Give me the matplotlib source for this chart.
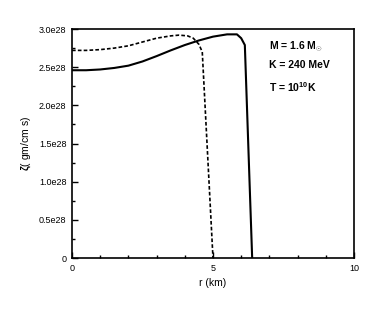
import numpy as np
from matplotlib import pyplot as plt
from matplotlib.ticker import MultipleLocator

plt.rcParams['font.family'] = ['Liberation Sans', 'DejaVu Sans']
plt.rcParams['mathtext.fontset'] = 'custom'
plt.rcParams['mathtext.rm'] = 'Liberation Sans:bold'
plt.rcParams['mathtext.it'] = 'Liberation Sans:bold'

# radius in km, zeta in units of 1e28 gm/(cm s)
rSolid = [0.0, 0.5, 1.0, 1.5, 2.0, 2.5, 3.0, 3.5, 4.0, 4.5, 5.0, 5.5, 5.85, 6.0, 6.13, 6.39]
zSolid = [2.46, 2.46, 2.47, 2.49, 2.52, 2.575, 2.645, 2.72, 2.79, 2.85, 2.90, 2.93, 2.93, 2.88, 2.79, 0.0]

rDashed = [0.0, 0.5, 1.0, 1.5, 2.0, 2.5, 3.0, 3.5, 3.8, 4.1, 4.3, 4.5, 4.62, 5.0]
zDashed = [2.72, 2.72, 2.73, 2.75, 2.78, 2.83, 2.88, 2.91, 2.92, 2.91, 2.88, 2.80, 2.70, 0.0]

yTicks = [0, 0.5, 1.0, 1.5, 2.0, 2.5, 3.0]
yTickLabels = ['0', '0.5e28', '1.0e28', '1.5e28', '2.0e28', '2.5e28', '3.0e28']
xTicks = [0, 5, 10]
xTickLabels = ['0', '5', '10']

fig = plt.figure(figsize=(3.81, 3.12), dpi=100)
ax = fig.add_axes([0.189, 0.173, 0.74, 0.734])

ax.plot(rSolid, zSolid, color='black', lw=1.5)
ax.plot(rDashed, zDashed, color='black', lw=1.2, linestyle=(0, (2.2, 1.3)))

ax.set_xlim(0, 10)
ax.set_ylim(0, 3.0)
ax.set_xticks(xTicks)
ax.set_xticklabels(xTickLabels)
ax.set_yticks(yTicks)
ax.set_yticklabels(yTickLabels)
ax.xaxis.set_minor_locator(MultipleLocator(1))
ax.yaxis.set_minor_locator(MultipleLocator(0.25))
ax.tick_params(which='both', direction='in', width=1.0, labelsize=6.5)
ax.tick_params(which='major', length=4, pad=4)
ax.tick_params(which='minor', length=2.5)
for s in ax.spines.values():
    s.set_linewidth(1.2)

ax.set_xlabel('r (km)', fontsize=7.5)
ax.set_ylabel(r'$\zeta$( gm/cm s)', fontsize=7.5, labelpad=4)

ax.text(7.0, 2.76, r'M = 1.6 M$_{\odot}$', fontsize=7.5, fontweight='bold', va='center')
ax.text(7.0, 2.53, 'K = 240 MeV', fontsize=7.5, fontweight='bold', va='center')
ax.text(7.0, 2.24, r'T = 10$^{10}$K', fontsize=7.5, fontweight='bold', va='center')

fig.savefig('out.png', dpi=100)
